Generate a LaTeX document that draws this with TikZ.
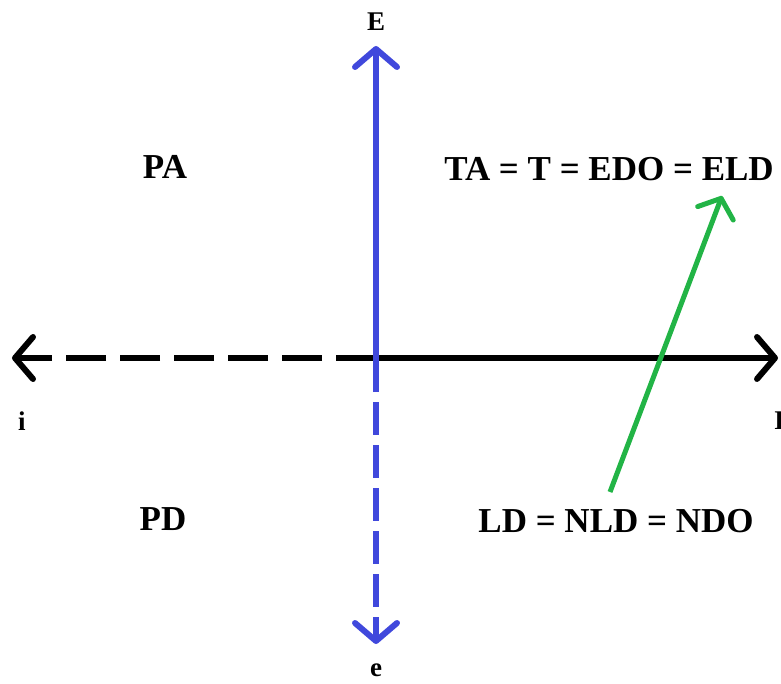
\documentclass[tikz,border=0pt]{standalone}
\usepackage{fontspec}
\setmainfont{Liberation Serif}
\usetikzlibrary{arrows.meta}
\definecolor{axisblue}{RGB}{64,72,220}
\definecolor{arrgreen}{RGB}{34,180,70}
\tikzset{
  lbl/.style={font=\fontsize{35}{40}\selectfont\bfseries, inner sep=0pt},
  small/.style={font=\fontsize{27}{30}\selectfont\bfseries, inner sep=0pt},
  barb/.style={-{Straight Barb[length=18pt,width=42pt,round]}},
  haxis/.style={line width=6pt, black},
  vaxis/.style={line width=6pt, axisblue},
}
\begin{document}
\begin{tikzpicture}[x=1pt,y=-1pt]
\useasboundingbox (0,0) rectangle (781,684);
\coordinate (L) at (12,358);
\coordinate (R) at (778,358);
\coordinate (O) at (376,358);
\coordinate (T) at (376,46);
\coordinate (B) at (376,644);
\coordinate (M) at (376,392);
\coordinate (M2) at (376,402);
% horizontal axis
\draw[haxis, dash pattern=on 40pt off 14pt, barb] (O) -- (L);
\draw[haxis, barb] (O) -- (R);
% vertical axis
\draw[vaxis, barb] (M) -- (T);
\draw[vaxis, dash pattern=on 33pt off 10pt, barb] (M2) -- (B);
% labels
\node[small] (E) at (376,22) {E};
\node[small] (e) at (376,670) {e};
\node[small] (i) at (22,421) {i};
\node[small, anchor=west] (I) at (774,421) {I};
\node[lbl] (PA) at (165,167) {PA};
\node[lbl] (PD) at (163,519) {PD};
\node[lbl] (top) at (609,169) {TA = T = EDO = ELD};
\node[lbl] (bot) at (616,521) {LD = NLD = NDO};
% green arrow
\draw[line width=5pt, arrgreen, -{Straight Barb[length=16pt,width=38pt,round]}] (610,492) -- (722,196);
\end{tikzpicture}
\end{document}
